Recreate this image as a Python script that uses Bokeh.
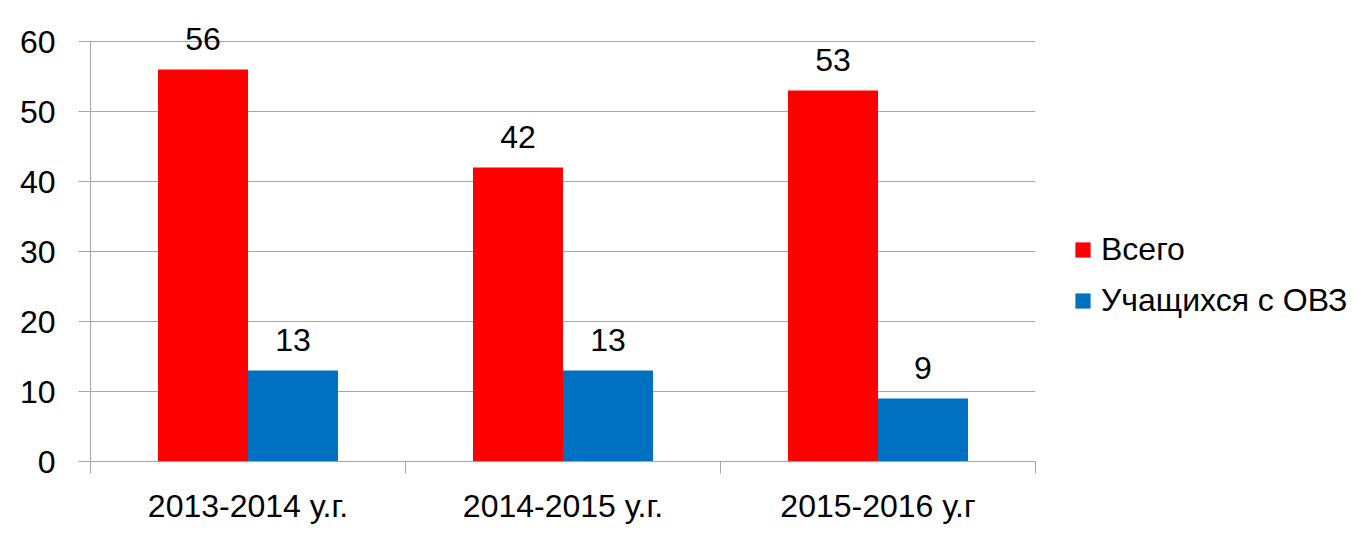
from bokeh.plotting import figure
from bokeh.models import (ColumnDataSource, Range1d, FixedTicker, LabelSet, Legend, LegendItem)
from bokeh.transform import dodge
from bokeh.core.properties import value
from bokeh.embed import file_html
from bokeh.resources import INLINE

categories = ["2013-2014 у.г.", "2014-2015 у.г.", "2015-2016 у.г"]
vsego = [56, 42, 53]
ovz = [13, 13, 9]
series_names = ["Всего", "Учащихся с ОВЗ"]
y_ticks = [0, 10, 20, 30, 40, 50, 60]

FONT = "Liberation Sans"
FS = "32px"
RED = "#FF0000"
BLUE = "#0070C0"
GRID = "#A6A6A6"

centers = [i + 0.5 for i in range(len(categories))]
src = ColumnDataSource(dict(x=centers, cat=categories, vsego=vsego, ovz=ovz,
                            vsego_t=[str(v) for v in vsego], ovz_t=[str(v) for v in ovz]))

# 7 px per unit; range extends to 65 so that value labels above the top bar are not clipped
p = figure(frame_width=945, frame_height=455, min_border_left=90, min_border_right=318,
           min_border_top=6, min_border_bottom=73,
           x_range=Range1d(0, len(categories)), y_range=Range1d(0, 65),
           output_backend="svg", toolbar_location=None)
p.outline_line_color = None

bw = 0.2857
r1 = p.vbar(x=dodge("x", -bw / 2, range=p.x_range), top="vsego", width=bw, bottom=0,
            source=src, fill_color=RED, line_color=None)
r2 = p.vbar(x=dodge("x", bw / 2, range=p.x_range), top="ovz", width=bw, bottom=0,
            source=src, fill_color=BLUE, line_color=None)

for col, off in (("vsego", -bw / 2), ("ovz", bw / 2)):
    lab = LabelSet(x=dodge("x", off, range=p.x_range), y=col, text=col + "_t", source=src,
                   text_align="center", text_baseline="alphabetic", y_offset=20,
                   text_font=value(FONT), text_font_size=value(FS), text_color="black")
    p.add_layout(lab)

# y axis
p.yaxis.ticker = FixedTicker(ticks=y_ticks, minor_ticks=[])
p.yaxis.bounds = (0, 60)
p.yaxis.axis_line_color = GRID
p.yaxis.major_tick_line_color = GRID
p.yaxis.major_tick_in = 0
p.yaxis.major_tick_out = 12
p.yaxis.major_label_standoff = 23
p.yaxis.major_label_text_font = FONT
p.yaxis.major_label_text_font_size = FS
p.yaxis.major_label_text_color = "black"

# x axis: labels at centres, ticks at category boundaries
p.xaxis.ticker = FixedTicker(ticks=centers, minor_ticks=list(range(len(categories) + 1)))
p.xaxis.major_label_overrides = {c: cat for c, cat in zip(centers, categories)}
p.xaxis.axis_line_color = GRID
p.xaxis.major_tick_line_color = None
p.xaxis.major_tick_out = 0
p.xaxis.major_tick_in = 0
p.xaxis.minor_tick_line_color = GRID
p.xaxis.minor_tick_in = 0
p.xaxis.minor_tick_out = 12
p.xaxis.major_label_standoff = 14
p.xaxis.major_label_text_font = FONT
p.xaxis.major_label_text_font_size = FS
p.xaxis.major_label_text_color = "black"

p.xgrid.grid_line_color = None
p.ygrid.grid_line_color = GRID
p.ygrid.ticker = FixedTicker(ticks=y_ticks)

legend = Legend(items=[LegendItem(label=series_names[0], renderers=[r1]),
                       LegendItem(label=series_names[1], renderers=[r2])],
                location=(38, 142), orientation="vertical",
                border_line_color=None, background_fill_alpha=0,
                padding=0, margin=0, spacing=14,
                glyph_width=19, glyph_height=19, label_standoff=9,
                label_text_font=FONT, label_text_font_size=FS, label_text_color="black")
p.add_layout(legend, "right")

open("out.html", "w").write(file_html(p, INLINE))
